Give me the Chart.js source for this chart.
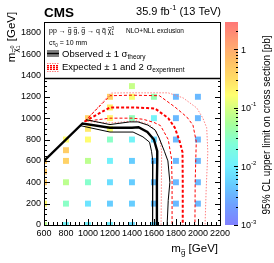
<!DOCTYPE html>
<html>
<head>
<meta charset="utf-8">
<script src="https://cdn.jsdelivr.net/npm/chart.js@4.4.0/dist/chart.umd.min.js"></script>
<style>
html, body { margin: 0; padding: 0; background: #fff; }
canvas { display: block; }
</style>
</head>
<body>
<canvas id="chart" width="274" height="263"></canvas>
<script>
// signal points: gluino mass, LSP mass, 95% CL upper limit [pb]
const pointGluino = [600, 600, 600, 600, 600,
  800, 800, 800, 800, 800, 800,
  1000, 1000, 1000, 1000, 1000, 1000, 1000,
  1200, 1200, 1200, 1200, 1200, 1200, 1200, 1200, 1200,
  1400, 1400, 1400, 1400, 1400, 1400, 1400, 1400,
  1600, 1600, 1600, 1600, 1600, 1600, 1600,
  1800, 1800, 1800, 1800, 1800, 1800,
  2000, 2000, 2000, 2000, 2000, 2000];
const pointLSP = [600, 500, 400, 200, 0,
  800, 700, 600, 400, 200, 0,
  1000, 900, 800, 600, 400, 200, 0,
  1200, 1100, 1000, 900, 800, 600, 400, 200, 0,
  1300, 1200, 1000, 800, 600, 400, 200, 0,
  1200, 1000, 800, 600, 400, 200, 0,
  1200, 1000, 800, 600, 400, 200,
  1200, 1000, 800, 600, 400, 200];
const pointLimit = [0.5, 0.5, 0.45, 0.18, 0.07,
  0.17, 0.45, 0.4, 0.07, 0.03, 0.012,
  0.4, 0.25, 0.17, 0.07, 0.028, 0.008, 0.011,
  0.4, 0.22, 0.2, 0.15, 0.03, 0.011, 0.007, 0.005, 0.01,
  0.08, 0.15, 0.035, 0.012, 0.005, 0.005, 0.005, 0.007,
  0.04, 0.012, 0.006, 0.004, 0.004, 0.004, 0.006,
  0.0035, 0.0035, 0.0035, 0.0035, 0.0035, 0.0035,
  0.0035, 0.0035, 0.0035, 0.0035, 0.0035, 0.0035];

// exclusion contours
const obsX = [600, 950, 1200, 1400, 1460, 1540, 1600, 1630, 1630, 1627, 1627];
const obsY = [600, 950, 910, 910, 915, 870, 800, 690, 600, 400, 0];
const obsUpX = [985, 1200, 1380, 1455, 1545, 1610, 1645, 1695, 1727, 1745, 1730, 1720];
const obsUpY = [985, 940, 965, 965, 935, 890, 820, 690, 600, 400, 230, 0];
const obsDnX = [930, 1200, 1410, 1500, 1560, 1578, 1590, 1590, 1585];
const obsDnY = [930, 870, 870, 825, 775, 690, 600, 400, 0];
const expX = [970, 1200, 1400, 1540, 1610, 1730, 1790, 1835, 1860, 1862, 1862];
const expY = [970, 1100, 1100, 1095, 1090, 1000, 910, 780, 680, 400, 0];
const expUpX = [970, 1200, 1400, 1650, 1790, 1900, 1955, 1985, 1975, 1973];
const expUpY = [970, 1210, 1215, 1210, 1105, 1010, 935, 780, 400, 0];
const expDnX = [970, 1200, 1400, 1500, 1600, 1660, 1730, 1760, 1765, 1765];
const expDnY = [970, 1000, 1000, 990, 960, 930, 800, 620, 400, 0];
const exp2UpX = [970, 1210, 1340, 1730, 1865, 1990, 2045, 2080, 2090, 2075, 2065];
const exp2UpY = [970, 1235, 1237, 1237, 1190, 1095, 1000, 910, 680, 330, 0];
const exp2DnX = [970, 1200, 1450, 1560, 1620, 1655, 1670, 1668, 1665];
const exp2DnY = [970, 955, 975, 940, 880, 790, 690, 400, 0];

const xTicks = [600, 800, 1000, 1200, 1400, 1600, 1800, 2000, 2200];
const yTicks = [0, 200, 400, 600, 800, 1000, 1200, 1400, 1600, 1800];
const zTickLabels = [[1, '1', ''], [0.1, '10', '-1'], [0.01, '10', '-2'], [0.001, '10', '-3']];

const zMin = 0.001, zMax = 2.9;
const FONT = '"Liberation Sans", Arial, Helvetica, sans-serif';

const palette = [
  [0.00, [128, 128, 255]], [0.10, [111, 160, 255]], [0.20, [102, 204, 255]],
  [0.29, [112, 240, 255]], [0.40, [128, 255, 216]], [0.50, [168, 255, 153]],
  [0.58, [216, 255, 128]], [0.64, [255, 255, 112]], [0.72, [255, 221, 102]],
  [0.82, [255, 187, 102]], [0.87, [255, 170, 112]], [1.00, [255, 119, 119]]
];
function colorAt(t) {
  t = Math.max(0, Math.min(1, t));
  for (let i = 1; i < palette.length; i++) {
    if (t <= palette[i][0]) {
      const a = palette[i - 1], b = palette[i];
      const f = (t - a[0]) / (b[0] - a[0]);
      const c = a[1].map((v, k) => Math.round(v + f * (b[1][k] - v)));
      return 'rgb(' + c.join(',') + ')';
    }
  }
  return 'rgb(' + palette[palette.length - 1][1].join(',') + ')';
}
function zFrac(v) {
  return (Math.log10(v) - Math.log10(zMin)) / (Math.log10(zMax) - Math.log10(zMin));
}

function pts(xs, ys) { return xs.map((x, i) => ({ x: x, y: ys[i] })); }
function line(xs, ys, color, width, dash) {
  return { data: pts(xs, ys), showLine: true, pointRadius: 0, borderColor: color,
    borderWidth: width, borderDash: dash, fill: false, tension: 0, order: 1 };
}

function font(size, bold) { return (bold ? 'bold ' : '') + size + 'px ' + FONT; }
// draw a glyph with a tilde above it, returns advance
function tilde(ctx, ch, x, y, size) {
  ctx.font = font(size);
  const w = ctx.measureText(ch).width;
  ctx.fillText(ch, x, y);
  ctx.font = font(size * 0.9);
  const tw = ctx.measureText('~').width;
  ctx.fillText('~', x + (w - tw) / 2, y - size * 0.4);
  return w;
}
function txt(ctx, s, x, y, size, bold) {
  ctx.font = font(size, bold);
  ctx.fillText(s, x, y);
  return ctx.measureText(s).width;
}

const decor = {
  id: 'decor',
  afterDatasetsDraw(chart) {
    const ctx = chart.ctx, a = chart.chartArea;
    const xs = chart.scales.x, ys = chart.scales.y;
    ctx.save();
    ctx.fillStyle = '#000';
    ctx.textBaseline = 'alphabetic';
    ctx.textAlign = 'left';

    // frame and ticks
    ctx.strokeStyle = '#000';
    ctx.lineWidth = 1;
    ctx.beginPath();
    for (let v = 600; v <= 2200; v += 40) {
      const px = Math.round(xs.getPixelForValue(v)) + 0.5;
      const len = (v % 200 === 0) ? 6 : 3;
      ctx.moveTo(px, a.bottom); ctx.lineTo(px, a.bottom - len);
    }
    for (let v = 0; v <= 1850; v += 50) {
      const py = Math.round(ys.getPixelForValue(v)) + 0.5;
      const len = (v % 200 === 0) ? 6 : 3;
      ctx.moveTo(a.left, py); ctx.lineTo(a.left + len, py);
      ctx.moveTo(a.right, py); ctx.lineTo(a.right - len, py);
    }
    ctx.stroke();
    ctx.strokeRect(a.left + 0.5, a.top + 0.5, a.right - a.left - 1, a.bottom - a.top);

    // legend box
    const lb = Math.round(ys.getPixelForValue(1375));
    ctx.fillStyle = '#fff';
    ctx.fillRect(a.left, a.top, a.right - a.left, lb - a.top);
    ctx.strokeRect(a.left + 0.5, a.top + 0.5, a.right - a.left - 1, lb - a.top);
    ctx.lineWidth = 1.6;
    ctx.beginPath(); ctx.moveTo(a.left, lb + 0.5); ctx.lineTo(a.right, lb + 0.5); ctx.stroke();

    ctx.fillStyle = '#000';
    let x = 49, y = 33, s = 7;
    x += txt(ctx, 'pp \u2192 ', x, y, s);
    x += tilde(ctx, 'g', x, y, s);
    x += txt(ctx, ' ', x, y, s);
    x += tilde(ctx, 'g', x, y, s);
    x += txt(ctx, ', ', x, y, s);
    x += tilde(ctx, 'g', x, y, s);
    x += txt(ctx, ' \u2192 q ', x, y, s);
    ctx.font = font(s);
    const qw = ctx.measureText('q').width;
    ctx.fillText('q', x, y);
    ctx.fillRect(x + 0.5, y - s * 0.72, qw - 1, 0.6);
    x += qw + ctx.measureText(' ').width;
    const cw = tilde(ctx, '\u03c7', x, y, s);
    txt(ctx, '0', x + cw, y - 3, 4.5);
    txt(ctx, '1', x + cw, y + 1.5, 4.5);
    txt(ctx, 'NLO+NLL exclusion', 126, 33, 6.5);

    x = 49; y = 45;
    x += txt(ctx, 'c\u03c4', x, y, 7);
    x += txt(ctx, '0', x, y + 1.5, 4.5);
    txt(ctx, ' = 10 mm', x, y, 7);

    x = 62; y = 57;
    x += txt(ctx, 'Observed \u00b1 1 \u03c3', x, y, 9.5);
    txt(ctx, 'theory', x, y + 2, 6.5);
    x = 62; y = 70;
    x += txt(ctx, 'Expected \u00b1 1 and 2 \u03c3', x, y, 9.5);
    txt(ctx, 'experiment', x, y + 2, 6.5);

    // legend symbols
    const seg = (yy, color, w, dash) => {
      ctx.strokeStyle = color; ctx.lineWidth = w; ctx.setLineDash(dash);
      ctx.beginPath(); ctx.moveTo(47, yy); ctx.lineTo(59, yy); ctx.stroke();
    };
    seg(51, '#000', 1, []); seg(53.5, '#000', 2.2, []); seg(56, '#000', 1, []);
    seg(63.5, '#ff8080', 1, [1.5, 1]); seg(65.5, '#ff0000', 1, [2, 1]);
    seg(67.5, '#ff0000', 2, [2, 1]); seg(69.5, '#ff0000', 1, [2, 1]);
    seg(71.5, '#ff8080', 1, [1.5, 1]);
    ctx.setLineDash([]);

    // colour bar
    const cbL = 225, cbR = 238;
    for (let py = a.top; py < a.bottom; py++) {
      const t = (a.bottom - py - 0.5) / (a.bottom - a.top);
      ctx.fillStyle = colorAt(t);
      ctx.fillRect(cbL, py, cbR - cbL, 1);
    }
    const zPix = v => a.bottom - zFrac(v) * (a.bottom - a.top);
    ctx.strokeStyle = '#000'; ctx.lineWidth = 1;
    ctx.beginPath();
    for (let d = 0.001; d < 3; d *= 10) {
      for (let m = 1; m <= 9; m++) {
        const v = d * m;
        if (v > zMax) break;
        const py = Math.round(zPix(v)) + 0.5;
        const len = m === 1 ? 4 : 2;
        ctx.moveTo(cbR, py); ctx.lineTo(cbR - len, py);
      }
    }
    ctx.stroke();
    ctx.fillStyle = '#000';
    ctx.textBaseline = 'middle';
    for (const [v, base, sup] of zTickLabels) {
      const py = zPix(v);
      const w = txt(ctx, base, 241, py + 1, 9);
      if (sup) txt(ctx, sup, 241 + w, py - 3, 6);
    }
    ctx.textBaseline = 'alphabetic';

    // titles
    txt(ctx, 'CMS', 44, 17, 13.5, true);
    ctx.font = font(11);
    const w1 = ctx.measureText('35.9 fb').width;
    ctx.font = font(7.5);
    const w2 = ctx.measureText('-1').width;
    ctx.font = font(11);
    const w3 = ctx.measureText(' (13 TeV)').width;
    x = 221 - (w1 + w2 + w3);
    x += txt(ctx, '35.9 fb', x, 15, 11);
    x += txt(ctx, '-1', x, 10, 7.5);
    txt(ctx, ' (13 TeV)', x, 15, 11);

    // x title, right aligned
    ctx.font = font(11.5);
    const mw = ctx.measureText('m').width;
    ctx.font = font(8);
    const gsw = ctx.measureText('g').width;
    ctx.font = font(11.5);
    const gevw = ctx.measureText(' [GeV]').width;
    x = 218 - (mw + gsw + gevw);
    x += txt(ctx, 'm', x, 252, 11.5);
    x += tilde(ctx, 'g', x, 255, 8);
    txt(ctx, ' [GeV]', x, 252, 11.5);

    // y title, rotated
    ctx.save();
    ctx.translate(15, 0);
    ctx.rotate(-Math.PI / 2);
    ctx.font = font(11.5);
    const yw = ctx.measureText('m').width + ctx.measureText(' [GeV]').width + 10;
    x = -10 - yw;
    x += txt(ctx, 'm', x, 0, 11.5);
    const chw = tilde(ctx, '\u03c7', x, 3, 8);
    txt(ctx, '0', x + chw, -1, 5.5);
    txt(ctx, '1', x + chw, 5, 5.5);
    x += chw + 4;
    txt(ctx, ' [GeV]', x, 0, 11.5);
    ctx.restore();

    // colour bar title
    ctx.save();
    ctx.translate(270, 125);
    ctx.rotate(-Math.PI / 2);
    ctx.textAlign = 'center';
    txt(ctx, '95% CL upper limit on cross section [pb]', 0, 0, 10);
    ctx.restore();

    ctx.restore();
  }
};

const tickFont = { family: FONT, size: 9 };
new Chart(document.getElementById('chart'), {
  type: 'scatter',
  data: {
    datasets: [
      line(obsX, obsY, '#000', 2.4, []),
      line(obsUpX, obsUpY, '#000', 1, []),
      line(obsDnX, obsDnY, '#000', 1, []),
      line(expX, expY, '#ff0000', 2, [3, 2]),
      line(expUpX, expUpY, '#ff0000', 1, [3, 2]),
      line(expDnX, expDnY, '#ff0000', 1, [3, 2]),
      line(exp2UpX, exp2UpY, '#ff8080', 1, [1.5, 1.5]),
      line(exp2DnX, exp2DnY, '#ff8080', 1, [1.5, 1.5]),
      {
        data: pts(pointGluino, pointLSP),
        pointStyle: 'rect',
        pointRadius: 4.2,
        borderWidth: 0,
        backgroundColor: pointLimit.map(v => colorAt(zFrac(v))),
        order: 10
      }
    ]
  },
  options: {
    responsive: false,
    animation: false,
    devicePixelRatio: 1,
    layout: { padding: { left: 0, right: 53, top: 22, bottom: 0 } },
    plugins: { legend: { display: false }, tooltip: { enabled: false } },
    scales: {
      x: {
        type: 'linear', min: 600, max: 2210,
        afterFit: s => { s.height = 38; },
        afterBuildTicks: s => { s.ticks = xTicks.map(v => ({ value: v })); },
        grid: { display: false, drawTicks: false },
        border: { display: false },
        ticks: { autoSkip: false, maxRotation: 0, padding: 3, color: '#000', font: tickFont,
          callback: v => String(v) }
      },
      y: {
        type: 'linear', min: 0, max: 1900,
        afterFit: s => { s.width = 44; },
        afterBuildTicks: s => { s.ticks = yTicks.map(v => ({ value: v })); },
        grid: { display: false, drawTicks: false },
        border: { display: false },
        ticks: { autoSkip: false, padding: 3, color: '#000', font: tickFont,
          callback: v => String(v) }
      }
    }
  },
  plugins: [decor]
});
</script>
</body>
</html>
